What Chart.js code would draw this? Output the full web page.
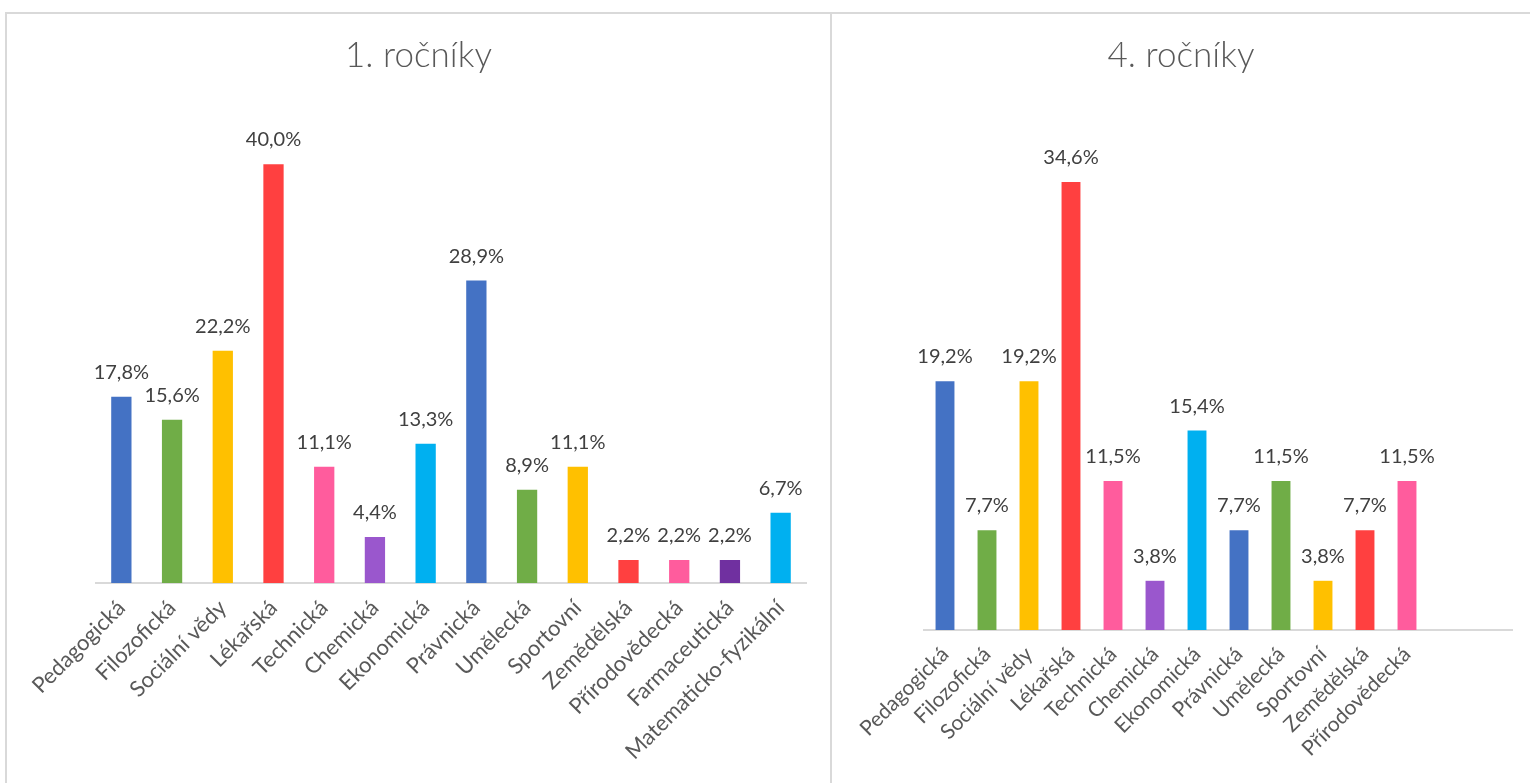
<!DOCTYPE html>
<html>
<head>
<meta charset="utf-8">
<script src="https://cdn.jsdelivr.net/npm/chart.js@4.4.1/dist/chart.umd.min.js"></script>
<style>
  body { margin: 0; background: #fff; width: 1530px; height: 783px; overflow: hidden; position: relative; }
  .box { position: absolute; border: 2px solid #d9d9d9; box-sizing: border-box; }
  .wrap { position: absolute; }
</style>
</head>
<body>
<div class="box" style="left:5px; top:12px; width:827px; height:800px;"></div>
<div class="box" style="left:830px; top:12px; width:720px; height:800px;"></div>
<div class="wrap" style="left:7px; top:14px; width:823px; height:769px;"><canvas id="chart1"></canvas></div>
<div class="wrap" style="left:832px; top:14px; width:698px; height:769px;"><canvas id="chart4"></canvas></div>
<script>
const categories1 = ["Pedagogická", "Filozofická", "Sociální vědy", "Lékařská", "Technická", "Chemická", "Ekonomická", "Právnická", "Umělecká", "Sportovní", "Zemědělská", "Přírodovědecká", "Farmaceutická", "Matematicko-fyzikální"];
const values1 = [17.8, 15.6, 22.2, 40.0, 11.1, 4.4, 13.3, 28.9, 8.9, 11.1, 2.2, 2.2, 2.2, 6.7];
const colors1 = ["#4472C4", "#70AD47", "#FFC000", "#FF4040", "#FF5C9D", "#9A57CD", "#00B0F0", "#4472C4", "#70AD47", "#FFC000", "#FF4040", "#FF5C9D", "#7030A0", "#00B0F0"];

const categories4 = ["Pedagogická", "Filozofická", "Sociální vědy", "Lékařská", "Technická", "Chemická", "Ekonomická", "Právnická", "Umělecká", "Sportovní", "Zemědělská", "Přírodovědecká"];
const values4 = [19.2, 7.7, 19.2, 34.6, 11.5, 3.8, 15.4, 7.7, 11.5, 3.8, 7.7, 11.5];
const colors4 = ["#4472C4", "#70AD47", "#FFC000", "#FF4040", "#FF5C9D", "#9A57CD", "#00B0F0", "#4472C4", "#70AD47", "#FFC000", "#FF4040", "#FF5C9D"];

const FONT = "Lato, 'Open Sans', sans-serif";

// value labels above the bars
const barLabels = {
    id: 'barLabels',
    afterDatasetsDraw(chart) {
        const ctx = chart.ctx;
        const ds = chart.data.datasets[0];
        const meta = chart.getDatasetMeta(0);
        ctx.save();
        ctx.font = "20px " + FONT;
        ctx.fillStyle = "#404040";
        ctx.textAlign = "center";
        ctx.textBaseline = "alphabetic";
        meta.data.forEach((bar, i) => {
            const v = ds.data[i];
            if (v == null) return;
            ctx.fillText(v.toFixed(1).replace('.', ',') + '%', bar.x, bar.y - 18);
        });
        ctx.restore();
    }
};

function makeChart(id, title, labels, data, colors, opts) {
    const ctx = document.getElementById(id).getContext('2d');
    return new Chart(ctx, {
        type: 'bar',
        data: {
            labels: labels,
            datasets: [{
                data: data,
                backgroundColor: colors,
                borderWidth: 0,
                barPercentage: 1,
                categoryPercentage: opts.barFrac
            }]
        },
        options: {
            responsive: true,
            maintainAspectRatio: false,
            animation: false,
            layout: { padding: 0 },
            plugins: {
                legend: { display: false },
                tooltip: { enabled: false },
                title: {
                    display: true,
                    text: title,
                    color: "#595959",
                    font: { family: FONT, size: 35, weight: '300' },
                    padding: { top: 21, bottom: opts.titleGap }
                }
            },
            scales: {
                x: {
                    grid: { display: false },
                    border: { display: true, color: "#d9d9d9", width: 2 },
                    ticks: {
                        autoSkip: false,
                        maxRotation: 45,
                        minRotation: 45,
                        padding: 4,
                        color: "#595959",
                        font: { family: FONT, size: opts.tickSize }
                    },
                    afterFit: s => { s.height = opts.xHeight; }
                },
                y: {
                    min: 0,
                    max: opts.yMax,
                    grid: { display: false },
                    border: { display: false },
                    ticks: { display: false },
                    afterFit: s => { s.width = opts.leftW; }
                },
                yR: {
                    position: 'right',
                    min: 0,
                    max: opts.yMax,
                    grid: { display: false },
                    border: { display: false },
                    ticks: { display: false },
                    afterFit: s => { s.width = opts.rightW; }
                }
            }
        },
        plugins: [barLabels]
    });
}

makeChart('chart1', '1. ročníky', categories1, values1, colors1,
    { barFrac: 0.4, tickSize: 22, xHeight: 200, yMax: 45, leftW: 89, rightW: 24, titleGap: 35 });

// the second chart keeps two empty slots on the right
makeChart('chart4', '4. ročníky', categories4.concat(['', '']), values4, colors4,
    { barFrac: 0.45, tickSize: 21, xHeight: 153, yMax: 40, leftW: 92, rightW: 18, titleGap: 35 });
</script>
</body>
</html>
